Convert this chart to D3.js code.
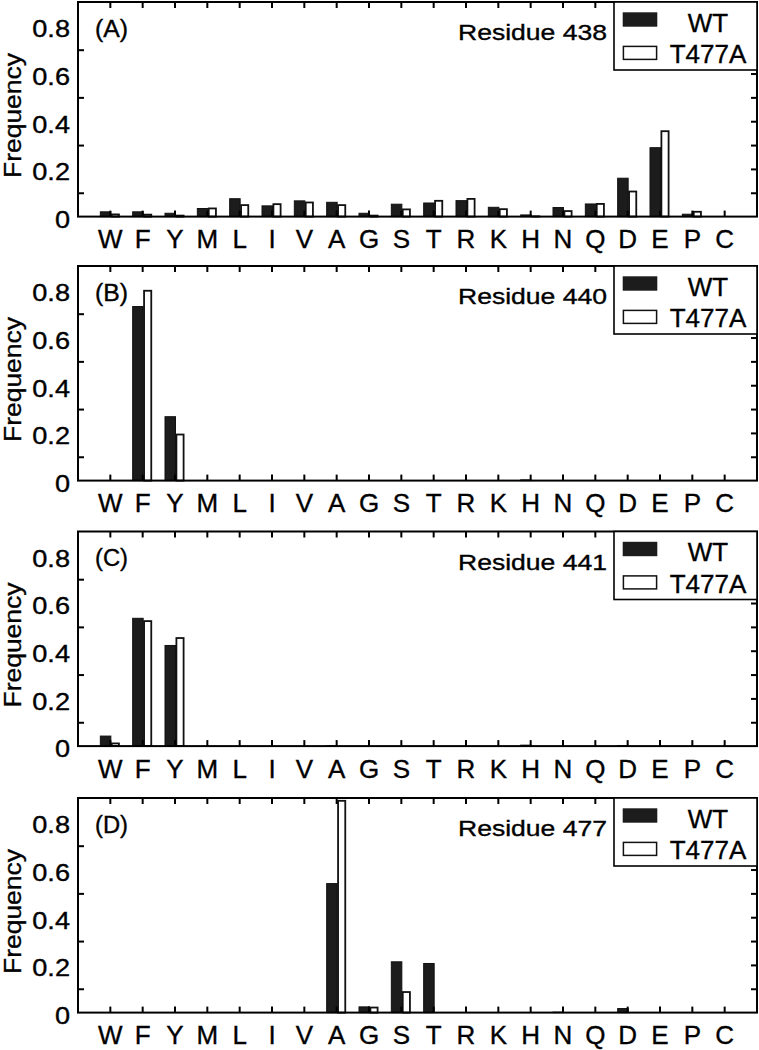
<!DOCTYPE html>
<html>
<head>
<meta charset="utf-8">
<script src="https://cdn.jsdelivr.net/npm/d3@7"></script>
<style>
  html, body { margin: 0; padding: 0; background: #fff; }
  svg { display: block; }
  text { font-family: "Liberation Sans", Arial, sans-serif; fill: #000; stroke: #000; stroke-width: 0.35px; }
</style>
</head>
<body>
<svg id="chart" width="759" height="1050"></svg>
<script>
// ---- data ----
const categories = ['W','F','Y','M','L','I','V','A','G','S','T','R','K','H','N','Q','D','E','P','C'];
const seriesNames = ['WT', 'T477A'];
const yTickLabels = [0, 0.2, 0.4, 0.6, 0.8];
const yMinorTicks = [0.1, 0.3, 0.5, 0.7];
const yRightTicks = [0.1, 0.2, 0.3, 0.4, 0.5, 0.6, 0.7, 0.8];

const panelLetters = ['(A)', '(B)', '(C)', '(D)'];
const residues = ['Residue 438', 'Residue 440', 'Residue 441', 'Residue 477'];

const wt438  = [0.020,0.020,0.014,0.034,0.075,0.045,0.066,0.060,0.014,0.052,0.057,0.067,0.039,0.007,0.038,0.053,0.161,0.289,0.010,0];
const mut438 = [0.013,0.012,0.008,0.038,0.052,0.056,0.063,0.052,0.008,0.034,0.070,0.078,0.035,0.005,0.027,0.057,0.109,0.362,0.024,0];
const wt440  = [0,0.730,0.268,0,0,0,0,0,0,0,0,0,0,0.003,0,0,0,0,0,0];
const mut440 = [0,0.800,0.197,0,0,0,0,0,0,0,0,0,0,0,0,0,0,0,0,0];
const wt441  = [0.042,0.536,0.422,0,0,0,0,0.002,0,0,0,0,0,0.004,0,0,0.002,0,0,0];
const mut441 = [0.015,0.528,0.457,0,0,0,0,0,0,0,0,0,0,0.002,0,0,0,0,0,0];
const wt477  = [0,0,0,0,0,0,0,0.541,0.024,0.213,0.206,0,0,0,0.002,0,0.017,0,0,0];
const mut477 = [0,0,0,0,0,0,0,0.892,0.025,0.090,0,0,0,0,0,0,0,0,0,0];

const wtSeries  = [wt438, wt440, wt441, wt477];
const mutSeries = [mut438, mut440, mut441, mut477];

// ---- layout ----
const svg = d3.select('#chart');
const left = 78, right = 757;
const panelTops = [2, 266, 531.5, 798];
const plotH = 214.6;

const x = d3.scaleBand().domain(categories).range([left, right]).paddingInner(0).paddingOuter(0.5);
const xSub = d3.scaleBand().domain(seriesNames).range([-9.5, 9.5]);
const center = c => x(c) + x.bandwidth() / 2;

panelTops.forEach((top, p) => {
  const bottom = top + plotH;
  const y = d3.scaleLinear().domain([0, 0.9]).range([bottom, top]);
  const g = svg.append('g');

  const rows = categories.map((c, i) => ({c, wt: wtSeries[p][i], mut: mutSeries[p][i]}));

  // bars
  g.selectAll('rect.wt').data(rows.filter(d => d.wt > 0)).join('rect')
    .attr('class', 'wt')
    .attr('x', d => center(d.c) + xSub('WT') - 0.5)
    .attr('width', xSub.bandwidth() + 1)
    .attr('y', d => y(d.wt))
    .attr('height', d => y(0) - y(d.wt))
    .attr('fill', '#1c1c1c').attr('stroke', '#111').attr('stroke-width', 1);

  g.selectAll('rect.mut').data(rows.filter(d => d.mut > 0)).join('rect')
    .attr('class', 'mut')
    .attr('x', d => center(d.c) + xSub('T477A') + 1.4)
    .attr('width', xSub.bandwidth() - 2.3)
    .attr('y', d => y(d.mut) + 0.9)
    .attr('height', d => Math.max(0, y(0) - y(d.mut) - 0.9))
    .attr('fill', '#fff').attr('stroke', '#111').attr('stroke-width', 1.8);

  // inward ticks
  const tickStyle = sel => { sel.select('.domain').remove(); sel.selectAll('line').attr('stroke', '#000').attr('stroke-width', 2); };
  g.append('g').attr('transform', `translate(${left},0)`)
    .call(d3.axisLeft(y).tickValues(yMinorTicks).tickSize(-6).tickFormat(''))
    .call(tickStyle);
  g.append('g').attr('transform', `translate(${right},0)`)
    .call(d3.axisRight(y).tickValues(yRightTicks).tickSize(-6).tickFormat(''))
    .call(tickStyle);
  g.append('g').attr('transform', `translate(0,${top})`)
    .call(d3.axisTop(x).tickSize(-6).tickFormat(''))
    .call(tickStyle);

  // bottom axis with labels
  const xb = g.append('g').attr('transform', `translate(0,${bottom})`)
    .call(d3.axisBottom(x).tickSize(-6).tickPadding(13))
    .call(tickStyle);
  xb.selectAll('text').attr('font-size', 26).attr('font-family', '"Liberation Sans", Arial, sans-serif')
    .attr('fill', '#000');

  // left labels
  const yl = g.append('g').attr('transform', `translate(${left - 8},0)`)
    .call(d3.axisLeft(y).tickValues(yTickLabels).tickSize(0).tickPadding(0)
      .tickFormat(d => d === 0 ? '0' : d3.format('.1f')(d)));
  yl.select('.domain').remove();
  yl.selectAll('text')
    .attr('font-size', 23)
    .attr('font-family', '"Liberation Sans", Arial, sans-serif')
    .attr('fill', '#000')
    .attr('x', 0).attr('dy', '0.47em')
    .each(function () {
      const w = this.getComputedTextLength();
      d3.select(this).attr('textLength', w * 1.18).attr('lengthAdjust', 'spacingAndGlyphs');
    });

  // frame
  g.append('rect').attr('x', left).attr('y', top).attr('width', right - left).attr('height', plotH)
    .attr('fill', 'none').attr('stroke', '#000').attr('stroke-width', 2);

  // panel letter
  g.append('text').attr('x', 95).attr('y', top + 34.7)
    .attr('font-size', 23).attr('textLength', 33).attr('lengthAdjust', 'spacingAndGlyphs')
    .text(panelLetters[p]);

  // residue label
  g.append('text').attr('x', 458).attr('y', top + 38)
    .attr('font-size', 22).attr('textLength', 149).attr('lengthAdjust', 'spacingAndGlyphs')
    .text(residues[p]);

  // y title
  g.append('text').attr('transform', `translate(20.5,${top + 113.5}) rotate(-90)`)
    .attr('text-anchor', 'middle').attr('font-size', 23)
    .attr('textLength', 125).attr('lengthAdjust', 'spacingAndGlyphs')
    .text('Frequency');

  // legend
  const lg = g.append('g');
  lg.append('rect').attr('x', 614).attr('y', top).attr('width', right - 614).attr('height', 68)
    .attr('fill', '#fff').attr('stroke', '#000').attr('stroke-width', 1.6);
  lg.append('rect').attr('x', 622.7).attr('y', top + 10.3).attr('width', 34.6).attr('height', 14.4)
    .attr('fill', '#1c1c1c');
  lg.append('rect').attr('x', 623.4).attr('y', top + 44.4).attr('width', 33.2).attr('height', 13)
    .attr('fill', '#fff').attr('stroke', '#111').attr('stroke-width', 1.5);
  lg.selectAll('text.leg').data(seriesNames).join('text')
    .attr('class', 'leg')
    .attr('x', 708).attr('y', (d, i) => top + (i === 0 ? 29.7 : 61.3))
    .attr('text-anchor', 'middle').attr('font-size', 26)
    .text(d => d);
});
</script>
</body>
</html>
